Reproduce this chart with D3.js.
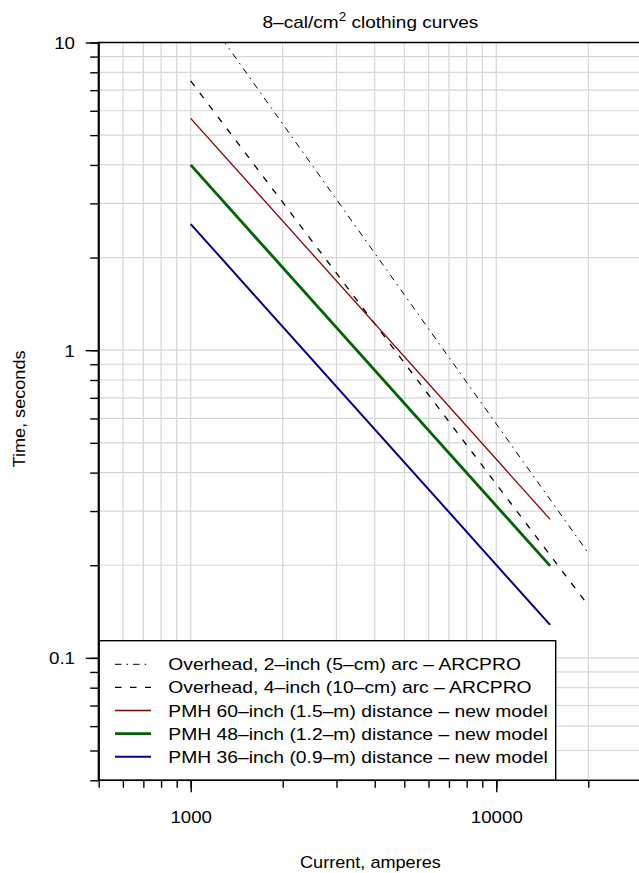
<!DOCTYPE html>
<html>
<head>
<meta charset="utf-8">
<script src="https://cdn.jsdelivr.net/npm/d3@7"></script>
<style>
  body { margin: 0; background: #fff; }
  svg { display: block; }
  text { font-family: "Liberation Sans", Arial, Helvetica, sans-serif; fill: #000; }
</style>
</head>
<body>
<div id="chart"></div>
<script>
// series: two end points each (straight lines on log-log axes)
const seriesNames = [
  "Overhead, 2\u2013inch (5\u2013cm) arc \u2013 ARCPRO",
  "Overhead, 4\u2013inch (10\u2013cm) arc \u2013 ARCPRO",
  "PMH 60\u2013inch (1.5\u2013m) distance \u2013 new model",
  "PMH 48\u2013inch (1.2\u2013m) distance \u2013 new model",
  "PMH 36\u2013inch (0.9\u2013m) distance \u2013 new model"
];
const currents = [
  [1000, 20000],
  [1000, 20000],
  [1000, 15000],
  [1000, 15000],
  [1000, 15000]
];
const times = [
  [14.3, 0.219],
  [7.5, 0.148],
  [5.67, 0.282],
  [4.0, 0.199],
  [2.57, 0.128]
];
const seriesColors = ["#000000", "#000000", "#8b0000", "#006400", "#00008b"];
const seriesWidths = [1, 1.3, 1.3, 2.8, 2];
const seriesDash = ["6.5,5,1.6,5", "6.5,8.5", null, null, null];

const xMajor = [1000, 10000];
const xTicks = [500, 600, 700, 800, 900, 1000, 2000, 3000, 4000, 5000, 6000, 7000, 8000, 9000, 10000, 20000, 30000];
const yMajor = [0.1, 1, 10];
const yTicks = [0.04, 0.05, 0.06, 0.07, 0.08, 0.09, 0.1, 0.2, 0.3, 0.4, 0.5, 0.6, 0.7, 0.8, 0.9,
                1, 2, 3, 4, 5, 6, 7, 8, 9, 10];

document.addEventListener('DOMContentLoaded', function () {
    const W = 639, H = 873;
    const margin = { top: 42.5, left: 98.7 };
    const plotW = 543.4, plotH = 737.8;
    const fs = 17;

    const svg = d3.select('#chart').append('svg')
        .attr('width', W)
        .attr('height', H);

    const x = d3.scaleLog().domain([500, 30000]).range([margin.left, margin.left + plotW]);
    const y = d3.scaleLog().domain([0.04, 10]).range([margin.top + plotH, margin.top]);

    svg.append('clipPath').attr('id', 'clip')
        .append('rect')
        .attr('x', margin.left).attr('y', margin.top)
        .attr('width', plotW).attr('height', plotH);

    // grid
    const grid = svg.append('g').attr('stroke', '#d6d6d6').attr('stroke-width', 1.2);
    grid.selectAll('line.gx').data(xTicks).enter().append('line')
        .attr('x1', d => x(d)).attr('x2', d => x(d))
        .attr('y1', margin.top).attr('y2', margin.top + plotH);
    grid.selectAll('line.gy').data(yTicks).enter().append('line')
        .attr('x1', margin.left).attr('x2', margin.left + plotW)
        .attr('y1', d => y(d)).attr('y2', d => y(d));

    // curves
    const line = d3.line().x(d => x(d[0])).y(d => y(d[1]));
    svg.append('g').attr('clip-path', 'url(#clip)')
        .selectAll('path')
        .data(seriesNames.map((n, i) => i))
        .enter().append('path')
        .attr('d', i => line(currents[i].map((c, j) => [c, times[i][j]])))
        .attr('fill', 'none')
        .attr('stroke', i => seriesColors[i])
        .attr('stroke-width', i => seriesWidths[i])
        .attr('stroke-dasharray', i => seriesDash[i]);

    // axes: minor ticks then major ticks with labels
    const xAxisG = svg.append('g').attr('transform', `translate(0,${margin.top + plotH})`);
    xAxisG.append('g').call(d3.axisBottom(x).tickValues(xTicks).tickSize(7.5).tickFormat(''));
    xAxisG.append('g').call(d3.axisBottom(x).tickValues(xMajor).tickSize(12).tickFormat(d3.format('d')));
    xAxisG.selectAll('.domain').remove();
    xAxisG.selectAll('.tick line').attr('stroke-width', 1.4);
    xAxisG.selectAll('text')
        .attr('y', null).attr('dy', null)
        .attr('font-size', fs)
        .attr('font-family', null)
        .attr('transform', 'translate(0,42.5) scale(1.1,1)');

    const yAxisG = svg.append('g').attr('transform', `translate(${margin.left},0)`);
    yAxisG.append('g').call(d3.axisLeft(y).tickValues(yTicks).tickSize(8.5).tickFormat(''));
    yAxisG.append('g').call(d3.axisLeft(y).tickValues(yMajor).tickSize(13).tickFormat(d => String(d)));
    yAxisG.selectAll('.domain').remove();
    yAxisG.selectAll('.tick line').attr('stroke-width', 1.4);
    yAxisG.selectAll('text')
        .attr('x', null).attr('dy', null)
        .attr('font-size', fs)
        .attr('font-family', null)
        .attr('transform', 'translate(-23.7,6) scale(1.1,1)');

    // legend
    const lg = svg.append('g');
    const legTop = 640.7, legRight = 555.7;
    lg.append('rect')
        .attr('x', margin.left).attr('y', legTop)
        .attr('width', legRight - margin.left).attr('height', margin.top + plotH - legTop)
        .attr('fill', '#fff').attr('stroke', '#000').attr('stroke-width', 1.4);
    const rows = lg.selectAll('g.row')
        .data(seriesNames.map((n, i) => i))
        .enter().append('g')
        .attr('transform', i => `translate(0,${664.3 + i * 23.1})`);
    rows.append('line')
        .attr('x1', 115).attr('x2', 151)
        .attr('stroke', i => seriesColors[i])
        .attr('stroke-width', i => seriesWidths[i])
        .attr('stroke-dasharray', i => seriesDash[i]);
    rows.append('text')
        .attr('transform', 'translate(168.3,6) scale(1.135,1)')
        .attr('font-size', fs)
        .text(i => seriesNames[i]);

    // box
    svg.append('rect')
        .attr('x', margin.left).attr('y', margin.top)
        .attr('width', plotW).attr('height', plotH)
        .attr('fill', 'none').attr('stroke', '#000').attr('stroke-width', 1.5);
    svg.append('line')
        .attr('x1', margin.left).attr('x2', margin.left)
        .attr('y1', margin.top).attr('y2', margin.top + plotH)
        .attr('stroke', '#000').attr('stroke-width', 2);

    // titles
    const title = svg.append('text')
        .attr('transform', `translate(${margin.left + plotW / 2},28) scale(1.12,1)`)
        .attr('text-anchor', 'middle')
        .attr('font-size', fs);
    title.append('tspan').text('8\u2013cal/cm');
    title.append('tspan').attr('dy', -7).attr('font-size', 12).text('2');
    title.append('tspan').attr('dy', 7).text(' clothing curves');

    svg.append('text')
        .attr('transform', `translate(${margin.left + plotW / 2},868) scale(1.065,1)`)
        .attr('text-anchor', 'middle')
        .attr('font-size', fs)
        .text('Current, amperes');

    svg.append('text')
        .attr('transform', `translate(25,409) rotate(-90) scale(1.065,1)`)
        .attr('text-anchor', 'middle')
        .attr('font-size', fs)
        .text('Time, seconds');
});
</script>
</body>
</html>
